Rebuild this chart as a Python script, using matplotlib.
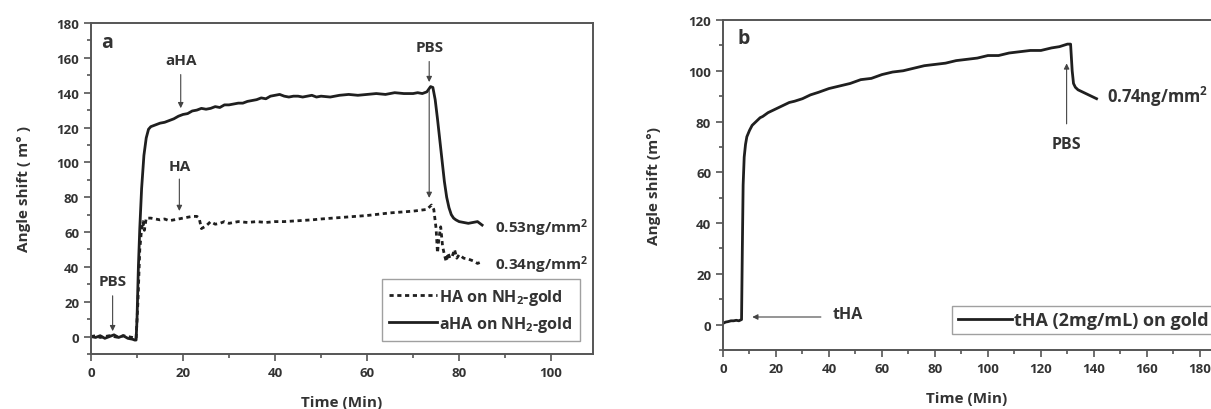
import matplotlib
matplotlib.use("Agg")
import matplotlib.pyplot as plt
from matplotlib.ticker import MultipleLocator

plt.rcParams['font.family'] = ['Open Sans', 'DejaVu Sans']
plt.rcParams['font.weight'] = 'bold'
plt.rcParams['mathtext.default'] = 'regular'

# ---------------- data: panel a ----------------
aHA_t = [0, 1, 2, 3, 4, 5, 6, 7, 8, 9, 9.5, 9.8, 10.0, 10.3, 10.6, 11.0, 11.5, 12.0, 12.5, 13,
         14, 15, 16, 17, 18, 19, 20, 21, 22, 23, 24, 25, 26, 27, 28, 29, 30, 31, 32, 33, 34,
         35, 36, 37, 38, 39, 40, 41, 42, 43, 44, 45, 46, 47, 48, 49, 50, 52, 54, 56, 58, 60,
         62, 64, 66, 68, 70, 71, 72, 73, 73.8, 74.3, 74.8, 75.3, 75.8, 76.3, 76.8, 77.3, 77.8,
         78.3, 78.8, 79.3, 80, 81, 82, 83, 84, 85]
aHA_y = [0, -0.5, 0.5, -1, 0, 1, -0.5, 0.5, -1, -1.5, -2, -2, 10, 40, 62, 85, 104, 114, 119, 120.5,
         121.5, 122.5, 123, 124, 125, 126.5, 127.5, 128, 129.5, 130, 131, 130.5, 131, 132, 131.5,
         133, 133, 133.5, 134, 134, 135, 135.5, 136, 137, 136.5, 138, 138.5, 139, 138, 137.5, 138,
         138, 137.5, 138, 138.5, 137.5, 138, 137.5, 138.5, 139, 138.5, 139, 139.5, 139, 140, 139.5,
         139.5, 140, 139.5, 140.5, 143.5, 143, 136, 125, 113, 101, 89, 80, 74,
         70, 68, 67, 66, 65.5, 65, 65.5, 66, 64]

HA_t = [0, 1, 2, 3, 4, 5, 6, 7, 8, 9, 9.8, 10.2, 10.6, 11, 11.3, 11.6, 12, 13, 14, 15, 16, 17, 18,
        19, 20, 21, 22, 23, 23.5, 24, 25, 26, 27, 28, 29, 30, 32, 34, 36, 38, 40, 42, 45, 48, 50,
        55, 60, 65, 70, 73, 74, 74.5, 75, 75.3, 75.6, 76, 76.4, 76.8, 77.2, 77.6, 78, 78.5, 79,
        79.5, 80, 81, 82, 83, 84, 85]
HA_y = [0, 0.5, -0.5, 0, 0.5, 0, -0.5, 0.5, 0, -0.5, -1, 20, 50, 62, 66, 61, 68, 68, 67.5, 67, 67.5,
        66.5, 67, 67.5, 68, 68.5, 69, 69, 68, 62, 63.5, 66, 64.5, 65, 66, 65, 66, 65.5, 66, 65.5,
        66, 66, 66.5, 67, 67.5, 68.5, 69.5, 71, 72, 73, 75.5, 73, 62, 48, 56, 63, 52, 47, 43, 48,
        45, 46, 50, 45, 47, 45, 44.5, 43.5, 42, 43]

# ---------------- data: panel b ----------------
tHA_t = [0, 1, 2, 3, 4, 5, 6, 7, 7.3, 7.6, 8, 8.5, 9, 10, 11, 12, 13, 14, 15, 17, 19, 21, 23, 25,
         27, 30, 33, 36, 40, 44, 48, 52, 56, 60, 64, 68, 72, 76, 80, 84, 88, 92, 96, 100, 104,
         108, 112, 116, 120, 124, 127, 130, 131.2, 131.8, 132.3, 133, 134, 135, 136, 137, 138,
         139, 140, 141]
tHA_y = [0.5, 1, 1.2, 1.5, 1.5, 1.7, 1.5, 2, 30, 55, 66, 71, 74, 76.5, 78.5, 79.5, 80.5, 81.5, 82,
         83.5, 84.5, 85.5, 86.5, 87.5, 88, 89, 90.5, 91.5, 93, 94, 95, 96.5, 97, 98.5, 99.5, 100,
         101, 102, 102.5, 103, 104, 104.5, 105, 106, 106, 107, 107.5, 108, 108, 109, 109.5, 110.5,
         110.5, 100, 95, 93.5, 92.5, 92, 91.5, 91, 90.5, 90, 89.5, 89]

labels_a = ["HA on NH$_2$-gold", "aHA on NH$_2$-gold"]
label_b = "tHA (2mg/mL) on gold"

LC = '#1f1f1f'
TC = '#333333'
SC = '#555555'

fig = plt.figure(figsize=(12.11, 4.10), dpi=100)
axa = fig.add_axes([91/1211, 1-355/410, 502/1211, 331/410])
axb = fig.add_axes([723/1211, 1-351/410, 488/1211, 330/410])


def style(ax):
    for s in ax.spines.values():
        s.set_color(SC)
        s.set_linewidth(1.4)
    ax.tick_params(which='both', direction='out', colors=SC, labelcolor=TC,
                   labelsize=9.5, width=1.2)
    ax.tick_params(which='major', length=5)
    ax.tick_params(which='minor', length=3)
    ax.xaxis.set_major_locator(MultipleLocator(20))
    ax.xaxis.set_minor_locator(MultipleLocator(10))
    ax.yaxis.set_major_locator(MultipleLocator(20))
    ax.yaxis.set_minor_locator(MultipleLocator(10))
    ax.set_xlabel("Time (Min)", fontsize=11, color=TC, fontweight='bold', labelpad=12)
    for lab in ax.get_xticklabels() + ax.get_yticklabels():
        lab.set_fontweight('bold')


# ---------- panel a ----------
axa.plot(HA_t, HA_y, color=LC, lw=2.0, linestyle=(0, (1.5, 1.3)), label=labels_a[0])
axa.plot(aHA_t, aHA_y, color=LC, lw=2.0, label=labels_a[1])
axa.set_xlim(0, 109.1)
axa.set_ylim(-10, 180)
style(axa)
axa.set_ylabel("Angle shift ( m° )", fontsize=11, color=TC, fontweight='bold', labelpad=18)
leg = axa.legend(loc='lower right', bbox_to_anchor=(0.99, 0.015), fontsize=11.5,
                 frameon=True, fancybox=False, handlelength=3.0, handletextpad=0.15,
                 borderpad=0.45, labelspacing=0.45, edgecolor='#888888')
leg.get_frame().set_linewidth(1.0)
for t in leg.get_texts():
    t.set_color(TC)

ap = dict(arrowstyle='-|>', color='#444444', lw=0.8, mutation_scale=8)
axa.text(2.2, 169, "a", fontsize=14, color=TC, ha='left', va='center')
axa.text(19.5, 159, "aHA", fontsize=11, color=TC, ha='center', va='center', fontweight='bold')
axa.annotate("", xy=(19.5, 129.5), xytext=(19.5, 152), arrowprops=ap)
axa.text(19.2, 98, "HA", fontsize=11, color=TC, ha='center', va='center', fontweight='bold')
axa.annotate("", xy=(19.2, 70.5), xytext=(19.2, 92), arrowprops=ap)
axa.text(4.7, 32, "PBS", fontsize=11, color=TC, ha='center', va='center', fontweight='bold')
axa.annotate("", xy=(4.7, 1.5), xytext=(4.7, 25), arrowprops=ap)
axa.text(73.5, 166, "PBS", fontsize=11, color=TC, ha='center', va='center', fontweight='bold')
axa.annotate("", xy=(73.5, 144.5), xytext=(73.5, 159.5), arrowprops=ap)
axa.annotate("", xy=(73.5, 78), xytext=(73.5, 143), arrowprops=ap)
axa.text(87.8, 63, "0.53ng/mm$^2$", fontsize=11, color=TC, ha='left', va='center',
         fontweight='bold', clip_on=False)
axa.text(87.8, 41.5, "0.34ng/mm$^2$", fontsize=11, color=TC, ha='left', va='center',
         fontweight='bold', clip_on=False)

# ---------- panel b ----------
axb.plot(tHA_t, tHA_y, color=LC, lw=2.0, label=label_b)
axb.set_xlim(0, 184.2)
axb.set_ylim(-10, 120)
style(axb)
axb.spines['right'].set_visible(False)
axb.set_ylabel("Angle shift (m°)", fontsize=11, color=TC, fontweight='bold', labelpad=20)
legb = axb.legend(loc='lower left', bbox_to_anchor=(0.451, 0.02), fontsize=13,
                  frameon=True, fancybox=False, handlelength=3.0, handletextpad=0.15,
                  borderpad=0.3, edgecolor='#888888')
legb.get_frame().set_linewidth(1.0)
for t in legb.get_texts():
    t.set_color(TC)

axb.text(5.3, 113, "b", fontsize=14, color=TC, ha='left', va='center')
axb.text(47, 4, "tHA", fontsize=11.5, color=TC, ha='center', va='center', fontweight='bold')
axb.annotate("", xy=(10, 3), xytext=(38, 3), arrowprops=ap)
axb.text(129.7, 71, "PBS", fontsize=11.5, color=TC, ha='center', va='center', fontweight='bold')
axb.annotate("", xy=(129.7, 104), xytext=(129.7, 78), arrowprops=ap)
axb.text(144.8, 90, "0.74ng/mm$^2$", fontsize=12, color=TC, ha='left', va='center',
         fontweight='bold', clip_on=False)

fig.savefig("out.png", dpi=100)
